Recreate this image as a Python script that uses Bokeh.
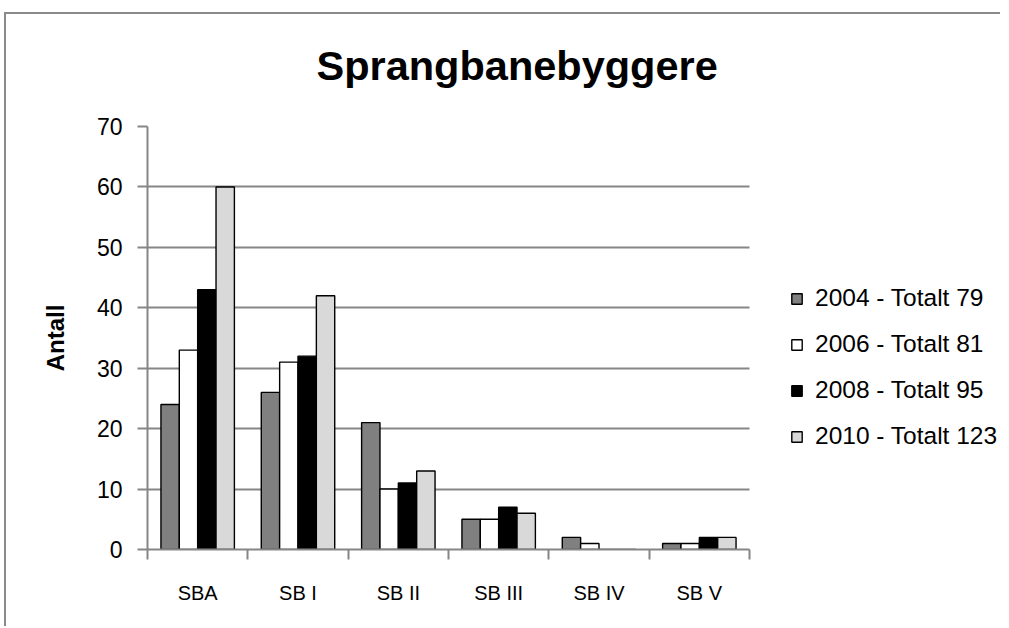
from bokeh.plotting import figure
from bokeh.models import FixedTicker, Legend, LegendItem, ColumnDataSource
from bokeh.embed import file_html
from bokeh.resources import INLINE

categories = ["SBA", "SB I", "SB II", "SB III", "SB IV", "SB V"]
series_names = ["2004 - Totalt 79", "2006 - Totalt 81", "2008 - Totalt 95", "2010 - Totalt 123"]
v2004 = [24, 26, 21, 5, 2, 1]
v2006 = [33, 31, 10, 5, 1, 1]
v2008 = [43, 32, 11, 7, 0, 2]
v2010 = [60, 42, 13, 6, 0, 2]
series_values = [v2004, v2006, v2008, v2010]
colors = ["#808080", "#FFFFFF", "#000000", "#D9D9D9"]
y_ticks = [0, 10, 20, 30, 40, 50, 60, 70]

FONT = "Liberation Sans"
GRID = "#868686"

W, H = 1000, 626
fl, ft, fb = 147, 126, 549   # frame left / top / bottom (px)
axis_right = 749             # where the category axis ends
n = len(categories)
# frame extends to the right edge so the legend sits inside it; axis/grid bounded to categories
x_end = n * (W - fl) / (axis_right - fl)

p = figure(width=W, height=H, output_backend="svg", toolbar_location=None,
           x_range=(0, x_end), y_range=(0, 70),
           min_border_left=fl, min_border_right=0,
           min_border_top=ft, min_border_bottom=H - fb)
# chart-area border (left and top edges) painted behind the transparent canvas
p.styles = {"background": "linear-gradient(#8a8a8a, #8a8a8a) 4px 12px / 2px 100% no-repeat, "
                          "linear-gradient(#8a8a8a, #8a8a8a) 4px 12px / 100% 2px no-repeat, white"}
p.outline_line_color = None
p.background_fill_color = "white"
p.border_fill_color = None

bar_w = 0.183
offsets = [-0.2745, -0.0915, 0.0915, 0.2745]
items = []
for j, vals in enumerate(series_values):
    src = ColumnDataSource(dict(x=[i + 0.5 + offsets[j] for i in range(n)], top=vals))
    r = p.vbar(x="x", top="top", bottom=0, width=bar_w, source=src,
               fill_color=colors[j], line_color="black", line_width=1.4)
    items.append(LegendItem(label=series_names[j], renderers=[r]))

# title
p.title.text = "Sprangbanebyggere"
p.title.text_font = FONT
p.title.text_font_size = "41.5px"
p.title.text_font_style = "bold"
p.title.text_color = "black"
p.title.align = "left"
p.title.offset = 169
p.title.standoff = 76

# y axis
p.yaxis.ticker = FixedTicker(ticks=y_ticks)
p.ygrid.ticker = FixedTicker(ticks=y_ticks)
p.ygrid.cross_bounds = (0, n)
p.yaxis.axis_line_color = GRID
p.yaxis.axis_line_width = 2
p.yaxis.major_tick_line_color = GRID
p.yaxis.major_tick_line_width = 2
p.yaxis.major_tick_out = 10
p.yaxis.major_tick_in = 0
p.yaxis.minor_tick_line_color = None
p.yaxis.major_label_text_font = FONT
p.yaxis.major_label_text_font_size = "23px"
p.yaxis.major_label_text_color = "black"
p.yaxis.major_label_standoff = 15
p.yaxis.axis_label = "Antall"
p.yaxis.axis_label_text_font = FONT
p.yaxis.axis_label_text_font_size = "24px"
p.yaxis.axis_label_text_font_style = "bold"
p.yaxis.axis_label_text_color = "black"
p.yaxis.axis_label_standoff = 25
p.ygrid.grid_line_color = GRID
p.ygrid.grid_line_width = 2

# x axis
centers = [i + 0.5 for i in range(n)]
bounds = [i for i in range(n + 1)]
p.xaxis.ticker = FixedTicker(ticks=centers, minor_ticks=bounds)
p.xaxis.bounds = (0, n)
p.xaxis.major_label_overrides = {c: lab for c, lab in zip(centers, categories)}
p.xaxis.axis_line_color = GRID
p.xaxis.axis_line_width = 2
p.xaxis.major_tick_line_color = None
p.xaxis.major_tick_out = 0
p.xaxis.major_tick_in = 0
p.xaxis.minor_tick_line_color = GRID
p.xaxis.minor_tick_line_width = 2
p.xaxis.minor_tick_out = 10
p.xaxis.minor_tick_in = 0
p.xaxis.major_label_text_font = FONT
p.xaxis.major_label_text_font_size = "20px"
p.xaxis.major_label_text_color = "black"
p.xaxis.major_label_standoff = 22
p.xgrid.visible = False

legend = Legend(items=items, location=(643, 99), orientation="vertical",
                glyph_width=13, glyph_height=13, label_height=28, spacing=18,
                label_standoff=12, padding=0, margin=0,
                label_text_font=FONT, label_text_font_size="24.5px",
                label_text_color="black", label_text_baseline="alphabetic",
                border_line_color=None, background_fill_alpha=0)
p.add_layout(legend, "center")

open("out.html", "w").write(file_html(p, INLINE))
